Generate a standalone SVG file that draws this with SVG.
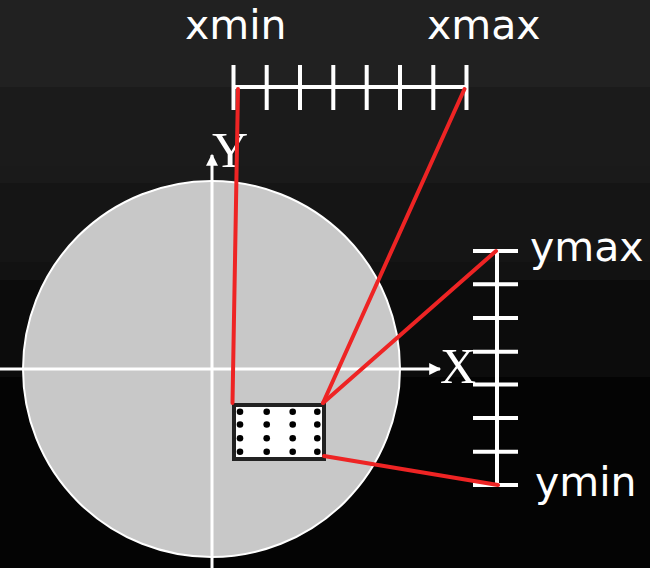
<svg xmlns="http://www.w3.org/2000/svg" width="650" height="568" viewBox="0 0 650 568">
<style>
.lbl{font-family:"DejaVu Sans","Verdana",sans-serif;font-size:41px;fill:#ffffff}
.ax{font-family:"Liberation Serif","Times New Roman",serif;font-size:50px;fill:#ffffff}
.w{stroke:#ffffff;stroke-width:3;fill:none}
.r{stroke:#ffffff;stroke-width:4;fill:none}
.red{stroke:#ee2424;stroke-width:4;fill:none;stroke-linecap:round}
.dot{fill:#000000}
</style>
<defs>
<marker id="arr" viewBox="0 0 10 10" refX="9" refY="5" markerWidth="17" markerHeight="12" markerUnits="userSpaceOnUse" orient="auto">
<path d="M0,0 L10,5 L0,10 Z" fill="#ffffff"/>
</marker>
</defs>
<g id="background">
<rect x="0" y="0" width="650" height="87" fill="#212121"/>
<rect x="0" y="87" width="650" height="79" fill="#1b1b1b"/>
<rect x="0" y="166" width="650" height="17" fill="#1a1a1a"/>
<rect x="0" y="183" width="650" height="79" fill="#151515"/>
<rect x="0" y="262" width="650" height="18" fill="#121212"/>
<rect x="0" y="280" width="650" height="97" fill="#0c0c0c"/>
<rect x="0" y="377" width="650" height="191" fill="#040404"/>
</g>
<g id="disc">
<ellipse cx="211.5" cy="369" rx="188.5" ry="188" fill="#c8c8c8" stroke="#ffffff" stroke-width="2"/>
</g>
<g id="axes">
<line class="w" x1="212" y1="568" x2="212" y2="155" marker-end="url(#arr)"/>
<line class="w" x1="0" y1="369" x2="440" y2="369" marker-end="url(#arr)"/>
<text class="ax" x="212" y="167">Y</text>
<text class="ax" x="440" y="383">X</text>
</g>
<g id="x-ruler">
<line class="r" x1="233" y1="87" x2="467" y2="87"/>
<path class="r" d="M233.5,65V110M266.7,65V110M300,65V110M333.3,65V110M366.7,65V110M400,65V110M433.3,65V110M466.5,65V110"/>
<text class="lbl" x="185" y="39">xmin</text>
<text class="lbl" x="427" y="39">xmax</text>
</g>
<g id="y-ruler">
<line class="r" x1="497" y1="251" x2="497" y2="485"/>
<path class="r" d="M473,251H518M473,284.3H518M473,318H518M473,351.7H518M473,384.5H518M473,418H518M473,451.7H518M473,485H518"/>
<text class="lbl" x="530" y="261">ymax</text>
<text class="lbl" x="535" y="496">ymin</text>
</g>
<g id="window">
<rect x="234" y="405" width="90" height="54" fill="#ffffff" stroke="#222222" stroke-width="4"/>
<g class="dot">
<circle cx="240" cy="411.7" r="3.3"/><circle cx="266.7" cy="411.7" r="3.3"/><circle cx="292.7" cy="411.7" r="3.3"/><circle cx="317.3" cy="411.7" r="3.3"/>
<circle cx="240" cy="424.5" r="3.3"/><circle cx="266.7" cy="424.5" r="3.3"/><circle cx="292.7" cy="424.5" r="3.3"/><circle cx="317.3" cy="424.5" r="3.3"/>
<circle cx="240" cy="438.3" r="3.3"/><circle cx="266.7" cy="438.3" r="3.3"/><circle cx="292.7" cy="438.3" r="3.3"/><circle cx="317.3" cy="438.3" r="3.3"/>
<circle cx="240" cy="451.7" r="3.3"/><circle cx="266.7" cy="451.7" r="3.3"/><circle cx="292.7" cy="451.7" r="3.3"/><circle cx="317.3" cy="451.7" r="3.3"/>
</g>
</g>
<g id="connectors">
<line class="red" x1="238" y1="89" x2="232.5" y2="403"/>
<line class="red" x1="464.5" y1="89" x2="323" y2="403"/>
<line class="red" x1="323" y1="403" x2="496" y2="251"/>
<line class="red" x1="324" y1="456" x2="498" y2="485"/>
</g>
</svg>
